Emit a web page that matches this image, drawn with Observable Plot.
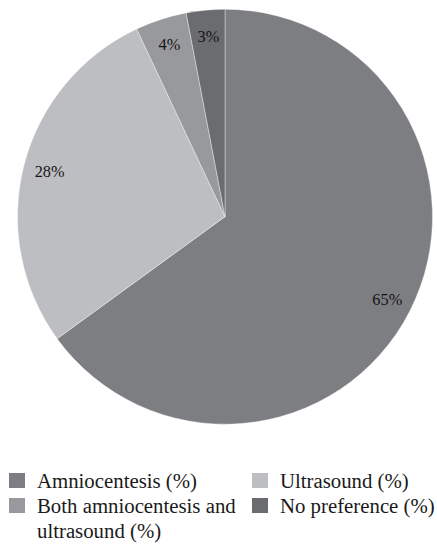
<!DOCTYPE html>
<html>
<head>
<meta charset="utf-8">
<script src="https://cdn.jsdelivr.net/npm/d3@7"></script>
<script src="https://cdn.jsdelivr.net/npm/@observablehq/plot@0.6"></script>
<style>
  body { margin: 0; background: #fff; font-family: "Liberation Serif", "DejaVu Serif", serif; }
  #chart svg { display: block; }
  .legend { display: grid; grid-template-columns: 243px auto; padding-left: 9px; margin-top: 28px; row-gap: 0; }
  .item { display: flex; align-items: flex-start; font-size: 20.8px; line-height: 25px; color: #1a1a1a; }
  .sw { flex: none; width: 16px; height: 15px; margin-top: 5px; margin-right: 12px; }
  .item span.t { width: 206px; }
</style>
</head>
<body>
<div id="chart"></div>
<script>
const categories = ["Amniocentesis (%)", "Ultrasound (%)", "Both amniocentesis and ultrasound (%)", "No preference (%)"];
const values = [65, 28, 4, 3];
const labels = ["65%", "28%", "4%", "3%"];
const colors = ["#7d7e82", "#bdbec2", "#98999d", "#6b6c70"];

const data = categories.map((c, i) => ({category: c, value: values[i], label: labels[i]}));
const arcs = d3.pie().value(d => d.value).sort(null)(data);
const labelR = 0.875;
const labelData = arcs.map(a => {
  const m = (a.startAngle + a.endAngle) / 2;
  return {label: a.data.label, x: labelR * Math.sin(m), y: labelR * Math.cos(m)};
});

const color = Plot.scale({color: {type: "ordinal", domain: categories, range: colors}});

function pieMark(index, scales) {
  const cx = scales.x(0), cy = scales.y(0);
  const r = scales.x(1) - scales.x(0);
  const arc = d3.arc().innerRadius(0).outerRadius(r);
  const g = d3.create("svg:g").attr("transform", `translate(${cx},${cy})`);
  g.selectAll("path").data(arcs).join("path")
    .attr("d", arc)
    .attr("fill", d => color.apply(d.data.category))
    .attr("stroke", "#ffffff")
    .attr("stroke-width", 0.7)
    .attr("stroke-opacity", 0.55);
  return g.node();
}

const chart = Plot.plot({
  width: 437,
  height: 440,
  marginLeft: 17.5,
  marginRight: 4.5,
  marginTop: 9.2,
  marginBottom: 15.8,
  x: {domain: [-1, 1], axis: null},
  y: {domain: [-1, 1], axis: null},
  style: {background: "#fff", fontFamily: "Liberation Serif, serif"},
  marks: [
    pieMark,
    Plot.text(labelData, {x: "x", y: "y", text: "label", fontSize: 16.3, fill: "#151515", fontFamily: "Liberation Serif"})
  ]
});
document.getElementById("chart").appendChild(chart);

const legend = document.createElement("div");
legend.className = "legend";
categories.forEach(c => {
  const item = document.createElement("div");
  item.className = "item";
  const sw = document.createElement("span");
  sw.className = "sw";
  sw.style.background = color.apply(c);
  const t = document.createElement("span");
  t.className = "t";
  t.textContent = c;
  item.appendChild(sw);
  item.appendChild(t);
  legend.appendChild(item);
});
document.body.appendChild(legend);
</script>
</body>
</html>
